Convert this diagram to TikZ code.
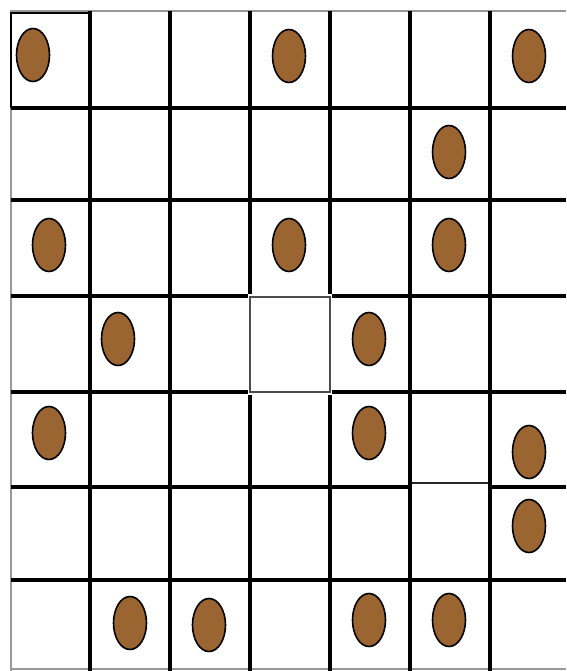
\documentclass[tikz,border=0pt]{standalone}
\usepackage{xcolor}
\usepackage{tikz}
\definecolor{seedbrown}{RGB}{155,101,50}

\begin{document}
\begin{tikzpicture}[
  x=1pt, y=-1pt,
  gridline/.style={line width=3.8pt, black},
  rim/.style={line width=1.3pt, black!40},
  patch/.style={fill=white, draw=black!70, line width=1.6pt},
  seed/.style={fill=seedbrown, draw=black, line width=1.6pt}
]
\useasboundingbox (0,0) rectangle (566,671);
% outer rim
\draw[rim] (566,11) -- (11,11) -- (11,671);
\draw[rim] (11,669) -- (566,669);
% grid
\foreach \x in {90,170,250,330,410,490}
  \draw[gridline] (\x,11) -- (\x,671);
\foreach \y in {108,200,296,392,487,580}
  \draw[gridline] (11,\y) -- (566,\y);
\draw[line width=1.6pt] (11,108) -- (11,13) -- (90,13);
% cells redrawn
\fill[white] (248,293.5) rectangle (332,394.5);
\draw[patch, fill=none] (250,297) rectangle (330,392);
\fill[white] (411.9,481) rectangle (488.1,489.5);
\draw[patch, draw=black!85] (411.9,483) -- (488.1,483);
% seeds
\foreach \x/\y in {33/55, 289/56, 529/56,
                   449/152,
                   49/245, 289/245, 449/245,
                   118/339, 369/339,
                   49/433, 369/433, 529/452,
                   529/526,
                   130/623, 209/625, 369/620, 449/620}
  \draw[seed] (\x,\y) ellipse (16.5 and 26.5);
\end{tikzpicture}
\end{document}
